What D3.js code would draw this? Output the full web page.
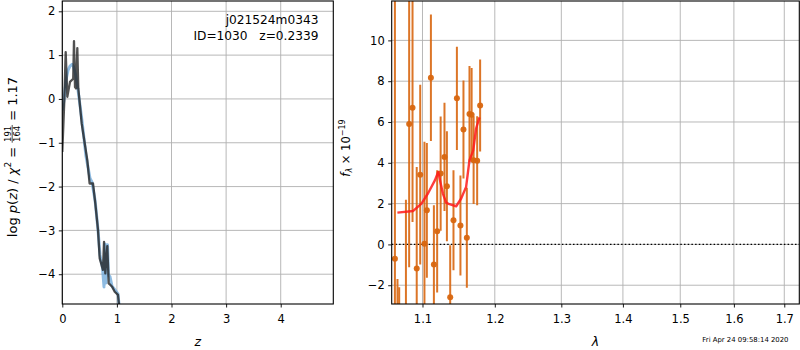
<!DOCTYPE html>
<html><head><meta charset="utf-8">
<script src="https://cdn.jsdelivr.net/npm/d3@7"></script>
<style>
body{margin:0;background:#fff;}
svg{display:block;font-family:"DejaVu Sans",sans-serif;}
</style></head><body>
<svg id="c" width="800" height="350"></svg>
<script>
// ---- p(z) panel data ----
const zDark    = [0.0, 0.037, 0.062, 0.092, 0.141, 0.200, 0.214, 0.233, 0.251, 0.275, 0.293, 0.355, 0.458, 0.500, 0.562, 0.604, 0.654, 0.685, 0.745, 0.764, 0.788, 0.824, 0.850, 0.910, 0.960, 1.020, 1.040];
const logpDark = [-1.21, -0.03, 1.07, 0.05, 0.39, 0.46, 1.32, 0.27, 0.24, 1.16, 0.24, -0.56, -1.40, -1.93, -1.93, -2.38, -2.99, -3.64, -3.90, -3.26, -3.98, -3.36, -4.21, -4.28, -4.40, -4.47, -4.71];
const zBlue    = [0.0, 0.031, 0.068, 0.104, 0.141, 0.178, 0.205, 0.242, 0.288, 0.360, 0.434, 0.480, 0.507, 0.544, 0.600, 0.654, 0.690, 0.736, 0.764, 0.782, 0.800, 0.828, 0.846, 0.874, 0.910, 0.965, 1.020, 1.040];
const logpBlue = [-0.26, -0.03, 0.43, 0.65, 0.75, 0.79, 0.74, 0.56, 0.20, -0.49, -1.31, -1.62, -1.81, -1.90, -2.31, -2.99, -3.56, -3.86, -4.29, -3.31, -4.20, -3.33, -4.02, -4.06, -4.27, -4.36, -4.45, -4.71];
const pzXTicks = [0, 1, 2, 3, 4];
const pzYTicks = [-4, -3, -2, -1, 0, 1, 2];
const pzTitle = ["j021524m0343", "ID=1030   z=0.2339"];

// ---- spectrum panel data ----
const specWave = [1.0641, 1.0674, 1.0696, 1.0783, 1.0825, 1.0869, 1.0924, 1.0970, 1.1026, 1.1058, 1.1112, 1.1152, 1.1196, 1.1243, 1.1295, 1.1328, 1.1373, 1.1418, 1.1465, 1.1514, 1.1556, 1.1603, 1.1640, 1.1670, 1.1698, 1.1748, 1.1790];
const specFlux = [-0.70, -4.0, -4.5, -4.0, 5.90, 6.70, -1.18, 3.42, 0.03, 1.67, 8.17, -0.98, 0.64, 3.47, 4.29, 2.85, -2.59, 1.18, 7.16, 0.93, 5.63, 0.33, 6.39, 6.35, 4.13, 4.10, 6.81];
const specErr  = [13.0, 2.31, 2.40, 6.19, 7.02, 5.60, 4.98, 4.40, 5.00, 3.30, 3.10, 2.90, 3.00, 2.80, 2.65, 2.70, 2.55, 2.45, 2.53, 2.45, 2.40, 2.45, 2.35, 2.30, 2.15, 2.18, 2.25];
const modelWave = [1.0673, 1.0878, 1.0987, 1.1076, 1.1165, 1.1210, 1.1273, 1.1318, 1.1363, 1.1455, 1.1524, 1.1593, 1.1640, 1.1692, 1.1733, 1.1781];
const modelFlux = [1.56, 1.64, 2.00, 2.52, 3.14, 3.55, 2.49, 2.05, 1.97, 1.87, 2.25, 2.82, 4.13, 4.60, 5.68, 6.23];
const specXTicks = [1.1, 1.2, 1.3, 1.4, 1.5, 1.6, 1.7];
const specYTicks = [-2, 0, 2, 4, 6, 8, 10];
const stamp = "Fri Apr 24 09:58:14 2020";

const svg = d3.select("#c");
const FS = 11.5;

function makePanel(box, xScale, yScale, xTicks, yTicks, xFmt, yFmt, id) {
  const g = svg.append("g");
  svg.append("defs").append("clipPath").attr("id", id)
    .append("rect").attr("x", box.x0).attr("y", box.y0)
    .attr("width", box.x1 - box.x0).attr("height", box.y1 - box.y0);
  g.selectAll(".gx").data(xTicks).enter().append("line")
    .attr("x1", d => xScale(d)).attr("x2", d => xScale(d))
    .attr("y1", box.y0).attr("y2", box.y1)
    .attr("stroke", "#b0b0b0").attr("stroke-width", 0.9);
  g.selectAll(".gy").data(yTicks).enter().append("line")
    .attr("y1", d => yScale(d)).attr("y2", d => yScale(d))
    .attr("x1", box.x0).attr("x2", box.x1)
    .attr("stroke", "#b0b0b0").attr("stroke-width", 0.9);
  const data = svg.append("g").attr("clip-path", `url(#${id})`);
  const ax = svg.append("g").attr("transform", `translate(0,${box.y1})`)
    .call(d3.axisBottom(xScale).tickValues(xTicks).tickFormat(xFmt).tickSizeInner(3.5).tickSizeOuter(0).tickPadding(7));
  const ay = svg.append("g").attr("transform", `translate(${box.x0},0)`)
    .call(d3.axisLeft(yScale).tickValues(yTicks).tickFormat(yFmt).tickSizeInner(3.5).tickSizeOuter(0).tickPadding(3.5));
  [ax, ay].forEach(a => {
    a.select(".domain").remove();
    a.selectAll("text").attr("font-family", "DejaVu Sans").attr("font-size", FS).attr("fill", "#000");
    a.selectAll("line").attr("stroke", "#000").attr("stroke-width", 0.9);
  });
  return {data, frame: () => svg.append("rect").attr("x", box.x0).attr("y", box.y0)
    .attr("width", box.x1 - box.x0).attr("height", box.y1 - box.y0)
    .attr("fill", "none").attr("stroke", "#000").attr("stroke-width", 1.1)};
}

// ---------- left panel ----------
const L = {x0: 62.3, x1: 333.3, y0: 1, y1: 304};
const xL = d3.scaleLinear().domain([0, 4.963]).range([L.x0, L.x1]);
const yL = d3.scaleLinear().domain([-4.68, 2.235]).range([L.y1, L.y0]);
const pL = makePanel(L, xL, yL, pzXTicks, pzYTicks, d3.format("d"), d3.format("d"), "clipL");
const lineL = (xs, ys) => d3.line().x((d, i) => xL(xs[i])).y((d, i) => yL(ys[i]))(xs);
pL.data.append("path").attr("d", lineL(zBlue, logpBlue)).attr("fill", "none")
  .attr("stroke", "#6aa6d8").attr("stroke-opacity", 0.75).attr("stroke-width", 3).attr("stroke-linejoin", "round");
pL.data.append("path").attr("d", lineL(zDark, logpDark)).attr("fill", "none")
  .attr("stroke", "#202020").attr("stroke-opacity", 0.78).attr("stroke-width", 2.3).attr("stroke-linejoin", "round");
pL.frame();
svg.append("text").attr("x", 318.5).attr("y", 24).attr("text-anchor", "end").attr("font-size", 12.2).text(pzTitle[0]);
svg.append("text").attr("x", 318.5).attr("y", 39.5).attr("text-anchor", "end").attr("font-size", 12.2)
  .attr("xml:space", "preserve").style("white-space", "pre").text(pzTitle[1]);
svg.append("text").attr("x", (L.x0 + L.x1) / 2).attr("y", 346).attr("text-anchor", "middle")
  .attr("font-size", 12.5).attr("font-style", "italic").text("z");

// left y label (rotated, with stacked fraction)
(function () {
  const F = 13;
  const g = svg.append("g").attr("transform", "translate(16.5,157) rotate(-90)");
  const t1 = g.append("text").attr("font-size", F).attr("xml:space", "preserve").style("white-space", "pre");
  t1.append("tspan").text("log ");
  t1.append("tspan").attr("font-style", "italic").text("p");
  t1.append("tspan").text("(");
  t1.append("tspan").attr("font-style", "italic").text("z");
  t1.append("tspan").text(") / ");
  t1.append("tspan").attr("font-style", "italic").text("χ");
  t1.append("tspan").attr("font-size", 9).attr("dy", -5.5).text("2");
  t1.append("tspan").attr("dy", 5.5).text(" = ");
  const w1 = t1.node().getComputedTextLength();
  const num = g.append("text").attr("font-size", 8.5).attr("text-anchor", "middle").attr("y", -6).text("191");
  const den = g.append("text").attr("font-size", 8.5).attr("text-anchor", "middle").attr("y", 3.5).text("164");
  const wf = Math.max(num.node().getComputedTextLength(), den.node().getComputedTextLength()) + 1.5;
  const t2 = g.append("text").attr("font-size", F).attr("xml:space", "preserve").style("white-space", "pre").text(" = 1.17");
  const w2 = t2.node().getComputedTextLength();
  const total = w1 + wf + w2;
  const s = -total / 2;
  t1.attr("x", s);
  num.attr("x", s + w1 + wf / 2);
  den.attr("x", s + w1 + wf / 2);
  g.append("line").attr("x1", s + w1).attr("x2", s + w1 + wf).attr("y1", -4.3).attr("y2", -4.3)
    .attr("stroke", "#000").attr("stroke-width", 0.7);
  t2.attr("x", s + w1 + wf);
})();

// ---------- right panel ----------
const R = {x0: 391.7, x1: 799.3, y0: 1, y1: 304};
const xR = d3.scaleLog().domain([1.060, 1.731]).range([R.x0, R.x1]);
const yR = d3.scaleLinear().domain([-2.92, 11.93]).range([R.y1, R.y0]);
const pR = makePanel(R, xR, yR, specXTicks, specYTicks, d3.format(".1f"), d3.format("d"), "clipR");
pR.data.append("line").attr("x1", R.x0).attr("x2", R.x1).attr("y1", yR(0)).attr("y2", yR(0))
  .attr("stroke", "#000").attr("stroke-width", 1.4).attr("stroke-dasharray", "1.5,2.2");
const ORANGE = "#d8660f";
pR.data.selectAll(".eb").data(specWave).enter().append("line")
  .attr("x1", d => xR(d)).attr("x2", d => xR(d))
  .attr("y1", (d, i) => yR(specFlux[i] + specErr[i])).attr("y2", (d, i) => yR(specFlux[i] - specErr[i]))
  .attr("stroke", ORANGE).attr("stroke-opacity", 0.9).attr("stroke-width", 2);
pR.data.selectAll(".pt").data(specWave).enter().append("circle")
  .attr("cx", d => xR(d)).attr("cy", (d, i) => yR(specFlux[i])).attr("r", 3)
  .attr("fill", ORANGE).attr("fill-opacity", 0.95);
pR.data.append("path").attr("d", d3.line().x((d, i) => xR(modelWave[i])).y((d, i) => yR(modelFlux[i]))(modelWave))
  .attr("fill", "none").attr("stroke", "#ff1a1a").attr("stroke-opacity", 0.85).attr("stroke-width", 2.4).attr("stroke-linejoin", "round");
pR.frame();
svg.append("text").attr("x", (R.x0 + R.x1) / 2).attr("y", 346).attr("text-anchor", "middle")
  .attr("font-size", 12.5).attr("font-style", "italic").text("λ");
svg.append("text").attr("x", 788.5).attr("y", 342).attr("text-anchor", "end").attr("font-size", 6.9).text(stamp);
(function () {
  const g = svg.append("g").attr("transform", "translate(349.5,148) rotate(-90)");
  const t = g.append("text").attr("font-size", 11.5).attr("text-anchor", "middle").attr("xml:space", "preserve").style("white-space", "pre");
  t.append("tspan").attr("font-style", "italic").text("f");
  t.append("tspan").attr("font-size", 8).attr("font-style", "italic").attr("dy", 2.5).text("λ");
  t.append("tspan").attr("dy", -2.5).text(" × 10");
  t.append("tspan").attr("font-size", 8).attr("dy", -5).text("−19");
})();
</script>
</body></html>
